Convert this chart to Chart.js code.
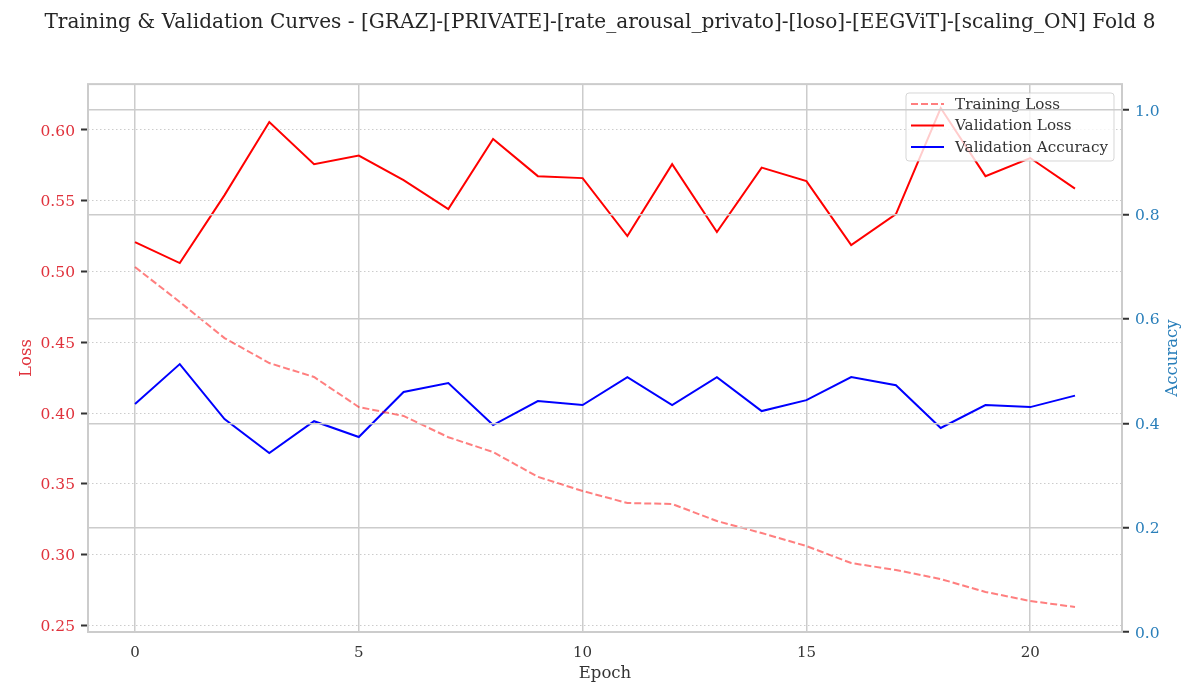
<!DOCTYPE html>
<html>
<head>
<meta charset="utf-8">
<title>Training & Validation Curves</title>
<script src="https://cdn.jsdelivr.net/npm/chart.js@4"></script>
<style>
  html, body { margin: 0; padding: 0; background: #fff; }
  canvas { display: block; }
</style>
</head>
<body>
<canvas id="curves" width="1200" height="700"></canvas>
<script>
const epochs = [0,1,2,3,4,5,6,7,8,9,10,11,12,13,14,15,16,17,18,19,20,21];
const trainLoss = [.5032,.4785,.453,.4354,.4255,.4043,.398,.383,.3725,.355,.345,.3365,.3358,.3238,.3153,.3061,.2941,.2892,.2828,.2737,.2673,.2631];
const valLoss = [.5208,.506,.554,.6056,.5759,.5819,.5646,.5441,.5936,.5674,.566,.5251,.5759,.5279,.5734,.5639,.5187,.5406,.6155,.5674,.5802,.5586];
const valAcc = [.4368,.5134,.408,.343,.404,.3736,.46,.477,.3966,.4425,.435,.4885,.435,.4885,.4234,.4444,.4885,.473,.391,.435,.431,.453];

const epochTicks = [0,5,10,15,20];
const lossTicks = [.25,.30,.35,.40,.45,.50,.55,.60];
const accTicks = [0,.2,.4,.6,.8,1.0];

const FONT = '"DejaVu Serif", serif';
const INK = '#333333';
const GRID = '#cccccc';
const RED = '#e0323c';
const BLUE = '#2a7fba';

const pts = ys => ys.map((y, i) => ({x: epochs[i], y}));
const useTicks = list => scale => { scale.ticks = list.map(value => ({value})); };

// spines, legend box and the right axis title (chart.js only turns it clockwise)
const frame = {
  id: 'frame',
  afterDatasetsDraw(chart) {
    const {ctx} = chart;
    const x = 906, y = 93, w = 208, h = 68;
    ctx.save();
    ctx.beginPath();
    ctx.roundRect(x, y, w, h, 3);
    ctx.fillStyle = 'rgba(255,255,255,0.8)';
    ctx.fill();
    ctx.strokeStyle = 'rgba(204,204,204,0.8)';
    ctx.lineWidth = 1;
    ctx.stroke();

    ctx.font = '15.2px ' + FONT;
    ctx.textBaseline = 'middle';
    chart.data.datasets.forEach((ds, i) => {
      const ly = y + 11 + i * 21.5;
      ctx.beginPath();
      ctx.setLineDash(ds.borderDash || []);
      ctx.strokeStyle = ds.borderColor;
      ctx.lineWidth = 2;
      ctx.moveTo(x + 5, ly);
      ctx.lineTo(x + 38, ly);
      ctx.stroke();
      ctx.setLineDash([]);
      ctx.fillStyle = INK;
      ctx.fillText(ds.label, x + 49, ly + 1);
    });
    ctx.restore();
  },
  afterDraw(chart) {
    const {ctx, chartArea: a} = chart;
    ctx.save();
    ctx.strokeStyle = GRID;
    ctx.lineWidth = 2;
    ctx.strokeRect(a.left, a.top, a.right - a.left, a.bottom - a.top);
    ctx.translate(1173, (a.top + a.bottom) / 2);
    ctx.rotate(-Math.PI / 2);
    ctx.font = '16.5px ' + FONT;
    ctx.fillStyle = BLUE;
    ctx.textAlign = 'center';
    ctx.textBaseline = 'middle';
    ctx.fillText('Accuracy', 0, 0);
    ctx.restore();
  }
};

Chart.defaults.font.family = FONT;

new Chart(document.getElementById('curves'), {
  type: 'line',
  plugins: [frame],
  data: {
    datasets: [
      {label: 'Training Loss', data: pts(trainLoss), yAxisID: 'y', borderColor: 'rgba(255,0,0,0.5)', borderDash: [7, 3], borderWidth: 2},
      {label: 'Validation Loss', data: pts(valLoss), yAxisID: 'y', borderColor: '#ff0000', borderWidth: 2},
      {label: 'Validation Accuracy', data: pts(valAcc), yAxisID: 'y2', borderColor: '#0000ff', borderWidth: 2}
    ]
  },
  options: {
    responsive: false,
    animation: false,
    devicePixelRatio: 1,
    elements: {point: {radius: 0}, line: {tension: 0}},
    plugins: {
      legend: {display: false},
      tooltip: {enabled: false},
      title: {
        display: true,
        text: 'Training & Validation Curves - [GRAZ]-[PRIVATE]-[rate_arousal_privato]-[loso]-[EEGViT]-[scaling_ON] Fold 8',
        color: '#262626',
        font: {family: FONT, size: 20.1, weight: 'normal', lineHeight: 1.2},
        padding: {top: 11, bottom: 49}
      }
    },
    scales: {
      x: {
        type: 'linear',
        min: -1.05,
        max: 22.05,
        afterBuildTicks: useTicks(epochTicks),
        afterFit: s => { s.height = 68; },
        grid: {color: GRID, lineWidth: 1.5, tickLength: 8, tickColor: 'rgba(0,0,0,0)'},
        border: {display: false},
        ticks: {color: INK, font: {size: 15}, padding: 4, maxRotation: 0},
        title: {display: true, text: 'Epoch', color: INK, font: {size: 16.5}, padding: {top: 2, bottom: 16}}
      },
      y: {
        position: 'left',
        min: 0.2454,
        max: 0.6324,
        afterBuildTicks: useTicks(lossTicks),
        afterFit: s => { s.width = 88; },
        grid: {color: GRID, lineWidth: 1, tickLength: 7, tickColor: INK, tickWidth: 2},
        border: {display: false, dash: [1.5, 2.5]},
        ticks: {color: RED, font: {size: 15.5}, padding: 6, labelOffset: 1.5, callback: v => v.toFixed(2)},
        title: {display: true, text: 'Loss', color: RED, font: {size: 16.5}, padding: {top: 17, bottom: 4}}
      },
      y2: {
        position: 'right',
        min: 0,
        max: 1.05,
        afterBuildTicks: useTicks(accTicks),
        afterFit: s => { s.width = 78; },
        grid: {color: GRID, lineWidth: 1.5, tickLength: 7, tickColor: INK, tickWidth: 2, z: 1},
        border: {display: false},
        ticks: {color: BLUE, font: {size: 15.5}, padding: 6, labelOffset: 1.5, callback: v => v.toFixed(1)}
      }
    }
  }
});
</script>
</body>
</html>
